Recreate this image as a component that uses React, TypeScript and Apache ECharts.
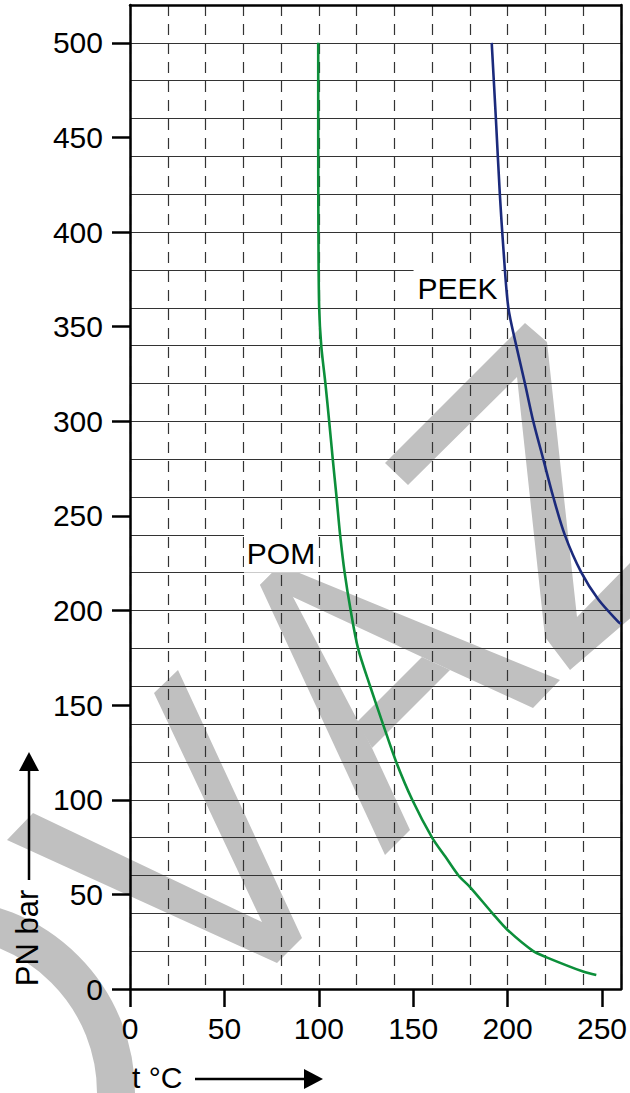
import React, { useEffect, useRef } from "react";
import * as echarts from "echarts";

// ---- data ----
const xTickValues = [0, 50, 100, 150, 200, 250];
const yTickValues = [0, 50, 100, 150, 200, 250, 300, 350, 400, 450, 500];

const pomT = [99.7, 99.7, 99.8, 100.2, 101.3, 103.5, 105.5, 107.4, 109.4, 111.3, 113.7, 116.9, 120.8, 127.2, 134, 141, 149.5, 160, 167, 174, 180, 192, 200, 213.6, 220, 240, 247];
const pomP = [500, 450, 400, 360, 340, 320, 300, 280, 260, 240, 220, 200, 180, 160, 140, 120, 100, 80, 70, 60, 54, 40, 31.2, 20, 17, 9.2, 7.4];

const peekT = [191.6, 193.8, 195.9, 197.8, 200.4, 204.6, 209.2, 213.6, 218.9, 224.2, 230.3, 239.1, 248, 258.4, 260];
const peekP = [500, 460, 420, 391, 360, 340, 320, 300, 280, 260, 240, 220, 206, 194.3, 193];

const labelNames = ["PEEK", "POM"];
const labelT = [173.5, 80];
const labelP = [370, 230];

const xName = "t °C";
const yName = "PN bar";

const FONT = "'Liberation Sans', Arial, Helvetica, sans-serif";
const GRAY = "#c0c0c0";

function zip(a: number[], b: number[]) {
  return a.map((v, i) => [v, b[i]]);
}

export default function App() {
  const ref = useRef<HTMLDivElement>(null);
  useEffect(() => {
    if (!ref.current) return;
    const chart = echarts.init(ref.current, null, { renderer: "svg" });

    const wm = (points: number[][]) => ({
      type: "polygon",
      z: -10,
      silent: true,
      shape: { points },
      style: { fill: GRAY },
    });

    const option: any = {
      animation: false,
      textStyle: { fontFamily: FONT },
      grid: { left: 130, right: 8, top: 5, bottom: 104, containLabel: false },
      xAxis: [
        {
          type: "value",
          min: 0,
          max: 260,
          position: "bottom",
          axisLine: { show: true, onZero: false, lineStyle: { color: "#000", width: 2.5 } },
          axisTick: { show: true, length: 18, inside: false, customValues: xTickValues, lineStyle: { color: "#000", width: 2.5 } },
          axisLabel: { show: true, customValues: xTickValues, fontSize: 30, color: "#000", fontFamily: FONT, margin: 24 },
          splitLine: { show: false },
        },
        {
          type: "value",
          min: 0,
          max: 260,
          interval: 20,
          position: "top",
          axisLine: { show: true, onZero: false, lineStyle: { color: "#000", width: 2.5 } },
          axisTick: { show: false },
          axisLabel: { show: false },
          splitLine: { show: true, lineStyle: { color: "#333", width: 1.2, type: [11, 8] } },
        },
      ],
      yAxis: [
        {
          type: "value",
          min: 0,
          max: 520,
          position: "left",
          axisLine: { show: true, onZero: false, lineStyle: { color: "#000", width: 2.5 } },
          axisTick: { show: true, length: 18, inside: false, customValues: yTickValues, lineStyle: { color: "#000", width: 2.5 } },
          axisLabel: { show: true, customValues: yTickValues, fontSize: 30, color: "#000", fontFamily: FONT, margin: 27 },
          splitLine: { show: false },
        },
        {
          type: "value",
          min: 0,
          max: 520,
          interval: 20,
          position: "right",
          axisLine: { show: true, onZero: false, lineStyle: { color: "#000", width: 2.5 } },
          axisTick: { show: false },
          axisLabel: { show: false },
          splitLine: { show: true, lineStyle: { color: "#333", width: 1.2 } },
        },
      ],
      series: [
        {
          name: "POM",
          type: "line",
          xAxisIndex: 0,
          yAxisIndex: 0,
          data: zip(pomT, pomP),
          showSymbol: false,
          smooth: 0.3,
          lineStyle: { color: "#0c8f3a", width: 2.6 },
          markPoint: {
            symbol: "rect",
            symbolSize: [74, 38],
            itemStyle: { color: "#fff" },
            label: { show: true, position: "inside", color: "#000", fontSize: 30, fontFamily: FONT, formatter: labelNames[1] },
            data: [{ coord: [labelT[1], labelP[1]] }],
          },
        },
        {
          name: "PEEK",
          type: "line",
          xAxisIndex: 0,
          yAxisIndex: 0,
          data: zip(peekT, peekP),
          showSymbol: false,
          smooth: 0.3,
          lineStyle: { color: "#1b2a7c", width: 2.6 },
          markPoint: {
            symbol: "rect",
            symbolSize: [88, 38],
            itemStyle: { color: "#fff" },
            label: { show: true, position: "inside", color: "#000", fontSize: 30, fontFamily: FONT, formatter: labelNames[0] },
            data: [{ coord: [labelT[0], labelP[0]] }],
          },
        },
      ],
      graphic: [
        // watermark
        {
          type: "arc",
          z: -10,
          silent: true,
          shape: { cx: -59, cy: 1093, r: 175, startAngle: -Math.PI / 2, endAngle: 0 },
          style: { stroke: GRAY, lineWidth: 38, fill: null, lineCap: "butt" },
        },
        wm([[7, 840], [33, 813], [262, 922], [154, 693], [178, 670], [302, 938], [277, 963]]),
        wm([[260, 585], [280, 565], [293, 597], [372, 748], [410, 830], [385, 855]]),
        wm([[280, 565], [560, 680], [533, 708], [450, 670], [422, 657], [293, 597], [260, 585]]),
        wm([[422, 657], [450, 670], [372, 748], [357, 722]]),
        wm([[385, 463], [525, 323], [547, 342], [577, 617], [630, 563], [640, 553], [640, 610], [570, 670], [545, 637], [517, 377], [408, 485]]),
        // y axis name with arrow
        {
          type: "text",
          x: 27,
          y: 938,
          rotation: Math.PI / 2,
          style: { text: yName, fill: "#000", font: `31px ${FONT}`, align: "center", verticalAlign: "middle" },
        },
        { type: "line", shape: { x1: 29, y1: 880, x2: 29, y2: 768 }, style: { stroke: "#000", lineWidth: 2.5 } },
        { type: "polygon", shape: { points: [[29, 752], [19, 771], [39, 771]] }, style: { fill: "#000" } },
        // x axis name with arrow
        {
          type: "text",
          x: 132,
          y: 1077,
          style: { text: xName, fill: "#000", font: `30px ${FONT}`, align: "left", verticalAlign: "middle" },
        },
        { type: "line", shape: { x1: 195, y1: 1079, x2: 306, y2: 1079 }, style: { stroke: "#000", lineWidth: 2.5 } },
        { type: "polygon", shape: { points: [[323, 1079], [304, 1069], [304, 1089]] }, style: { fill: "#000" } },
      ],
    };
    chart.setOption(option);
    return () => chart.dispose();
  }, []);
  return (
    <div
      ref={ref}
      style={{ position: "absolute", left: 0, top: 0, width: 630, height: 1093 }}
    />
  );
}
